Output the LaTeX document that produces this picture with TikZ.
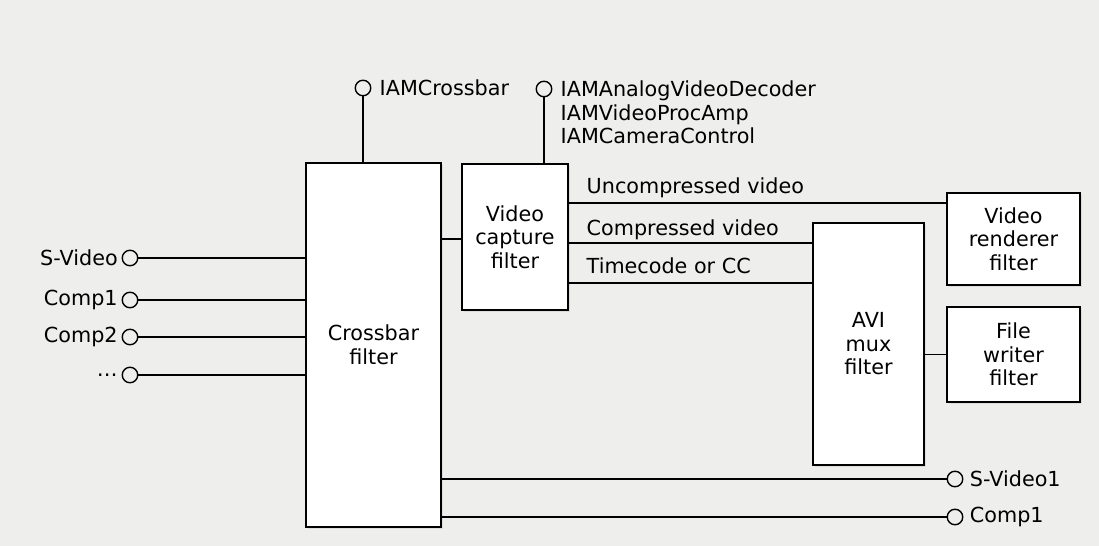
\documentclass[tikz,border=0pt]{standalone}
\usepackage{fontspec}
\setmainfont{DejaVu Sans}
\usetikzlibrary{positioning, shadows}
\definecolor{paper}{RGB}{238,238,236}
\newcommand\dfont{\fontsize{11.8pt}{13.4pt}\selectfont}

\begin{document}
\begin{tikzpicture}[x=0.02cm, y=-0.02cm, node distance=3pt,
    filter/.style={rectangle, draw, fill=white, line width=0.9pt, align=center, font=\dfont, inner sep=0pt,
        drop shadow={fill=black!20, shadow xshift=1.2pt, shadow yshift=-1.2pt}},
    port/.style={circle, draw, line width=0.8pt, minimum size=0.31cm, inner sep=0pt},
    lbl/.style={font=\dfont, inner sep=1pt},
    wire/.style={line width=0.9pt}]
    % page
    \fill[paper] (0,0) rectangle (1099,546);

    % filters
    \node [filter, minimum width=2.7cm, minimum height=7.28cm] (xbar) at (373.5,345) {Crossbar\\filter};
    \node [filter, minimum width=2.12cm, minimum height=2.92cm] (capture) at (515,237) {Video\\capture\\filter};
    \node [filter, minimum width=2.22cm, minimum height=4.84cm] (avimux) at (868.5,344) {AVI\\mux\\filter};
    \node [filter, minimum width=2.66cm, minimum height=1.84cm] (render) at (1013.5,239) {Video\\renderer\\filter};
    \node [filter, minimum width=2.66cm, minimum height=1.9cm] (writer) at (1013.5,354.5) {File\\writer\\filter};

    % interfaces
    \node [port] (pxbar) at (363,88) {};
    \node [lbl, right=3.5pt of pxbar] (txbar) {IAMCrossbar};
    \node [port] (pcap) at (544,89) {};
    \node [lbl, align=left, anchor=north west] (tcap) at ([xshift=3.5pt, yshift=5.8pt]pcap.east)
        {IAMAnalogVideoDecoder\\IAMVideoProcAmp\\IAMCameraControl};
    \draw [wire] (pxbar) -- (pxbar |- xbar.north);
    \draw [wire] (pcap) -- (pcap |- capture.north);

    % input pins
    \foreach \y/\nm/\txt in {258/sv/S-Video, 300/ca/Comp1, 337/cb/Comp2, 375/cx/\ldots}{
        \node [port] (in\nm) at (130,\y) {};
        \node [lbl, left=1pt of in\nm] (tin\nm) {\txt};
        \draw [wire] (in\nm) -- (in\nm -| xbar.west);
    }

    % output pins
    \node [port] (outsv) at (955,479) {};
    \node [lbl, right=2.5pt of outsv] (toutsv) {S-Video1};
    \node [port] (outca) at (955,517) {};
    \node [lbl, right=2.5pt of outca] (toutca) {Comp1};
    \draw [wire] (xbar.east |- outsv) -- (outsv);
    \draw [wire] (xbar.east |- outca) -- (outca);

    % streams
    \coordinate (xlink) at (0,239);
    \coordinate (uncomp) at (0,203);
    \coordinate (comp) at (0,243);
    \coordinate (tcode) at (0,283);
    \draw [wire] (xbar.east |- xlink) -- (capture.west |- xlink);
    \draw [wire] (capture.east |- uncomp) -- (render.west |- uncomp);
    \draw [wire] (capture.east |- comp) -- (avimux.west |- comp);
    \draw [wire] (capture.east |- tcode) -- (avimux.west |- tcode);
    \draw [wire] (avimux.east |- writer.west) -- (writer.west);
    \node [lbl, anchor=base west] (tuncomp) at ([xshift=9pt, yshift=5.5pt]capture.east |- uncomp) {Uncompressed video};
    \node [lbl, anchor=base west] (tcomp) at ([xshift=9pt, yshift=4.5pt]capture.east |- comp) {Compressed video};
    \node [lbl, anchor=base west] (ttcode) at ([xshift=9pt, yshift=5.5pt]capture.east |- tcode) {Timecode or CC};
\end{tikzpicture}
\end{document}
